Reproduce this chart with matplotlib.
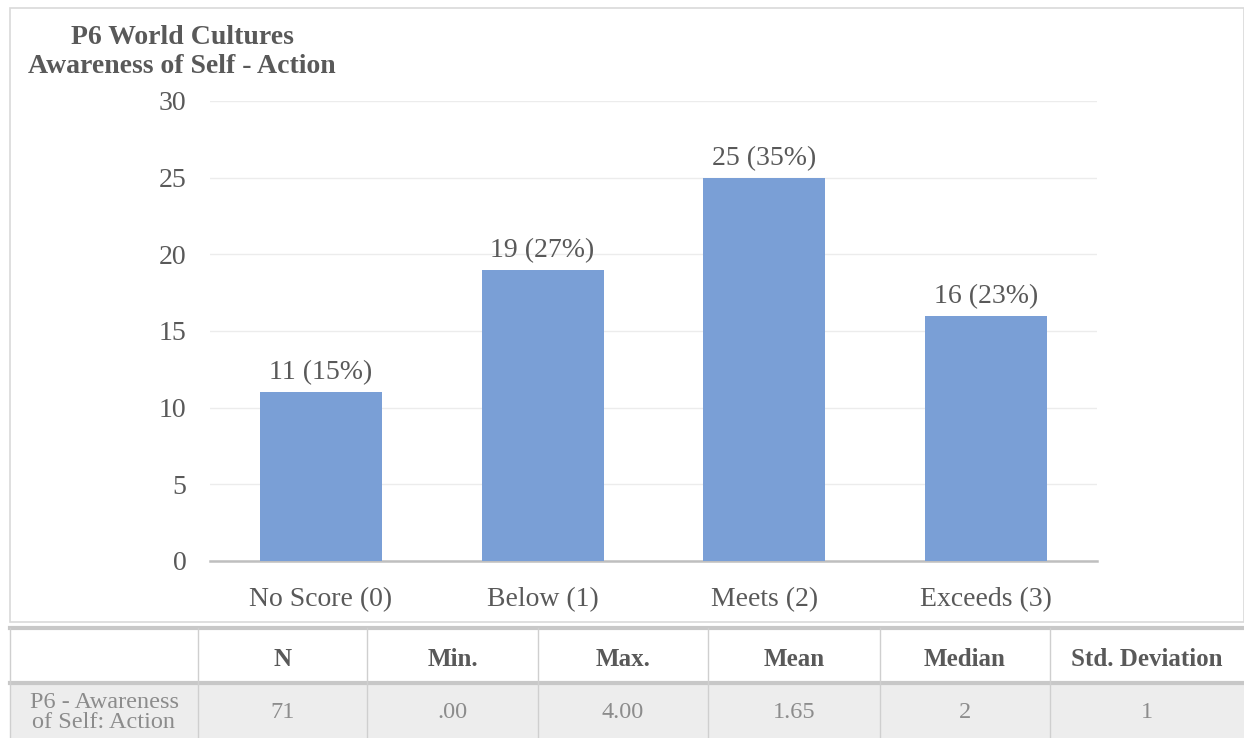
import matplotlib
matplotlib.use('Agg')
import matplotlib.pyplot as plt
from matplotlib.patches import Rectangle

# data
categories = ["No Score (0)", "Below (1)", "Meets (2)", "Exceeds (3)"]
counts = [11, 19, 25, 16]
percents = [15, 27, 35, 23]
title = "P6 World Cultures\nAwareness of Self - Action"

table_header = ["", "N", "Min.", "Max.", "Mean", "Median", "Std. Deviation"]
table_row = ["P6 - Awareness\nof Self: Action", "71", ".00", "4.00", "1.65", "2", "1"]

W, H = 1244, 738
plt.rcParams['font.family'] = ['Liberation Serif', 'DejaVu Serif']
fig = plt.figure(figsize=(W / 100, H / 100), dpi=100)

txt_col = '#595959'
bar_col = '#7a9fd6'

# outer frame of chart
fig.patches.append(Rectangle((10 / W, 1 - 622 / H), (W - 10) / W, (622 - 8) / H,
                             transform=fig.transFigure, fill=False,
                             edgecolor='#d9d9d9', lw=1.2))

# chart axes
ax = fig.add_axes([210 / W, 1 - 561 / H, (1097 - 210) / W, (561 - 101) / H])
x = range(len(categories))
ax.bar(x, counts, width=0.55, color=bar_col, zorder=3)
for i, (c, p) in enumerate(zip(counts, percents)):
    ax.annotate(f"{c} ({p}%)", (i, c), xytext=(0, 5), textcoords='offset points',
                ha='center', va='bottom', fontsize=20, color=txt_col)
ax.set_xlim(-0.5, len(categories) - 0.5)
ax.set_ylim(0, 30)
ax.set_yticks(range(0, 31, 5))
ax.set_xticks(list(x))
ax.set_xticklabels(categories)
ax.grid(axis='y', color='#ececec', lw=1, zorder=0)
for s in ['top', 'right', 'left']:
    ax.spines[s].set_visible(False)
ax.spines['bottom'].set_color('#bfbfbf')
ax.spines['bottom'].set_linewidth(1.8)
ax.tick_params(axis='both', length=0, labelsize=20, labelcolor=txt_col)
ax.tick_params(axis='y', pad=17)
ax.tick_params(axis='x', pad=19)

fig.text(182 / W, 1 - 52 / H, title, ha='center', va='center', fontsize=20,
         fontweight='bold', color=txt_col, linespacing=1.25)

# stats table
tax = fig.add_axes([0, 0, 1, 1])
tax.set_xlim(0, W)
tax.set_ylim(H, 0)
tax.axis('off')
col_edges = [10, 198, 367, 538, 708, 880, 1050, 1244]
row_edges = [628, 683, 738]
tax.add_patch(Rectangle((col_edges[0], row_edges[1]), col_edges[-1] - col_edges[0],
                        row_edges[2] - row_edges[1], color='#ededed', lw=0))
grid_col = '#cfcfcf'
tax.plot([col_edges[0], col_edges[-1]], [row_edges[0], row_edges[0]], color='#c8c8c8', lw=3)
tax.plot([col_edges[0], col_edges[-1]], [row_edges[1], row_edges[1]], color='#c8c8c8', lw=3)
for xe in col_edges[1:-1]:
    tax.plot([xe, xe], [row_edges[0], row_edges[2]], color=grid_col, lw=1)
tax.plot([col_edges[0], col_edges[0]], [row_edges[0], row_edges[2]], color=grid_col, lw=1)
for j in range(len(table_header)):
    cx = (col_edges[j] + col_edges[j + 1]) / 2
    tax.text(cx, (row_edges[0] + row_edges[1]) / 2 + 4, table_header[j], ha='center',
             va='center', fontsize=18, fontweight='bold', color=txt_col)
    tax.text(cx, (row_edges[1] + row_edges[2]) / 2 + 2, table_row[j], ha='center',
             va='center', fontsize=17.5, color='#8c8c8c', linespacing=1.0)

fig.savefig('out.png', dpi=100, facecolor='white')
